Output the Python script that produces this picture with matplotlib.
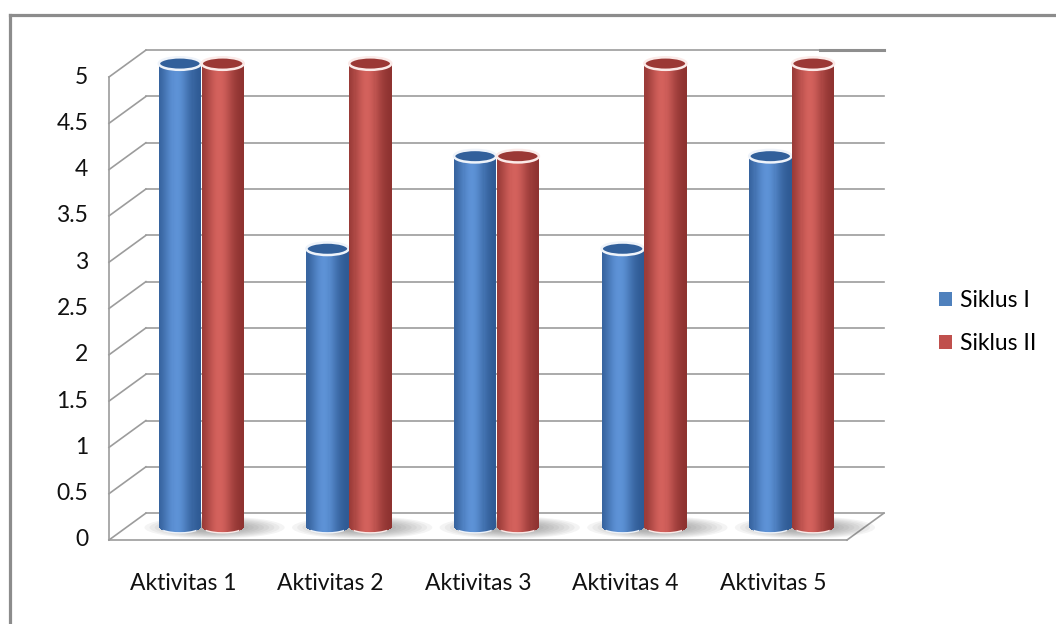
import numpy as np
import matplotlib
matplotlib.use("Agg")
import matplotlib.pyplot as plt
from matplotlib.patches import Ellipse, Arc, Patch
from matplotlib.lines import Line2D
import matplotlib.colors as mcolors

categories = ["Aktivitas 1", "Aktivitas 2", "Aktivitas 3", "Aktivitas 4", "Aktivitas 5"]
series_names = ["Siklus I", "Siklus II"]
siklus1 = [5, 3, 4, 3, 4]
siklus2 = [5, 5, 4, 5, 5]
yticks = [0, 0.5, 1, 1.5, 2, 2.5, 3, 3.5, 4, 4.5, 5]
ytick_labels = ["0", "0.5", "1", "1.5", "2", "2.5", "3", "3.5", "4", "4.5", "5"]

plt.rcParams['font.family'] = ['Lato', 'DejaVu Sans']

W, H = 1056, 624
fig = plt.figure(figsize=(W / 100, H / 100), dpi=100)
fig.patch.set_facecolor('white')
ax = fig.add_axes([109 / W, (H - 540) / H, 738 / W, 463 / H])
ax.set_xlim(-0.5, 4.5)
ax.set_ylim(0, 5)
ax.axis('off')

# depth offset (back wall) in data units
DX, DY = 0.25, 0.29
grid_c = '#9C9C9C'
glw = 1.2

# back wall gridlines + left wall diagonals
for v in yticks:
    ax.plot([-0.5 + DX, 4.5 + DX], [v + DY, v + DY], color=grid_c, lw=glw, clip_on=False, zorder=1)
    ax.plot([-0.5, -0.5 + DX], [v, v + DY], color=grid_c, lw=glw, clip_on=False, zorder=1)
# darker end of top wall edge
ax.plot([4.32, 4.5 + DX], [yticks[-1] + DY, yticks[-1] + DY], color='#8E8E8E', lw=2.2,
        clip_on=False, zorder=1.1)
# front vertical
ax.plot([-0.5, -0.5], [0, 5], color=grid_c, lw=glw, clip_on=False, zorder=1)
# floor edges
ax.plot([-0.5, 4.5], [0, 0], color=grid_c, lw=glw, clip_on=False, zorder=1)
ax.plot([4.5, 4.5 + DX], [0, DY], color=grid_c, lw=glw, clip_on=False, zorder=1)

# cylinders
colors = {
    0: dict(dark='#2C5790', light='#5D92D6', top='#32609B', rim='#EEF3FA'),
    1: dict(dark='#8A302E', light='#D3615C', top='#9B3835', rim='#FBEAE8'),
}
half_off = 0.145
cw = 0.285
eh = 0.135  # ellipse height in data units
N = 40
base = 0.5 * DY

for i in range(len(categories)):
    cx = i + 0.5 * DX
    # shadow
    for k in range(9):
        ax.add_patch(Ellipse((cx + 0.09, base - 0.01), 0.95 - k * 0.07, 0.24 - k * 0.018,
                             facecolor='#5E5E5E', edgecolor='none', alpha=0.065,
                             clip_on=False, zorder=2))
    for s, vals in enumerate([siklus1, siklus2]):
        v = vals[i]
        xc = cx + (-half_off if s == 0 else half_off)
        dark = np.array(mcolors.to_rgb(colors[s]['dark']))
        light = np.array(mcolors.to_rgb(colors[s]['light']))
        edges = np.linspace(xc - cw / 2, xc + cw / 2, N + 1)
        for j in range(N):
            t = (j + 0.5) / N
            g = np.exp(-((t - 0.42) / 0.33) ** 2)
            col = dark + (light - dark) * g
            xl = edges[j]
            xm = 0.5 * (edges[j] + edges[j + 1])
            u = (xm - xc) / (cw / 2)
            bot = base - (eh / 2) * np.sqrt(max(0.0, 1 - u * u))
            ax.bar(xl, v + base - bot, bottom=bot, width=edges[j + 1] - edges[j] + 0.002,
                   align='edge', color=col, edgecolor='none', clip_on=False, zorder=3 + s * 0.1)
        # bottom rim
        ax.add_patch(Arc((xc, base), cw, eh, theta1=200, theta2=340, color=colors[s]['rim'],
                         lw=1.0, clip_on=False, zorder=3.05 + s * 0.1))
        # top
        ax.add_patch(Ellipse((xc, v + base), cw, eh, facecolor=colors[s]['top'],
                             edgecolor=colors[s]['rim'], lw=1.8, clip_on=False, zorder=3.06 + s * 0.1))

# y tick labels
for v, lab in zip(yticks, ytick_labels):
    ax.text(-0.64, v, lab, ha='right', va='center', fontsize=16.5, color='#111111', clip_on=False)

# category labels
for i, lab in enumerate(categories):
    ax.text(i, -0.465, lab, ha='center', va='center', fontsize=16.5, color='#111111', clip_on=False)

# legend
handles = [Patch(facecolor='#4F81BD', edgecolor='none'), Patch(facecolor='#C0504D', edgecolor='none')]
fig.legend(handles, series_names, loc='center left', bbox_to_anchor=(918 / W, 1 - 322 / H),
           frameon=False, fontsize=16.5, handlelength=0.6, handleheight=0.6, handletextpad=0.35,
           labelspacing=0.95)

# outer border (cut at right/bottom)
fig.add_artist(Line2D([9.5 / W, 1], [1 - 15 / H, 1 - 15 / H], transform=fig.transFigure,
                      color='#8C8C8C', lw=2.3))
fig.add_artist(Line2D([9.5 / W, 9.5 / W], [0, 1 - 15 / H], transform=fig.transFigure,
                      color='#8C8C8C', lw=2.3))

fig.savefig('out.png', dpi=100)
